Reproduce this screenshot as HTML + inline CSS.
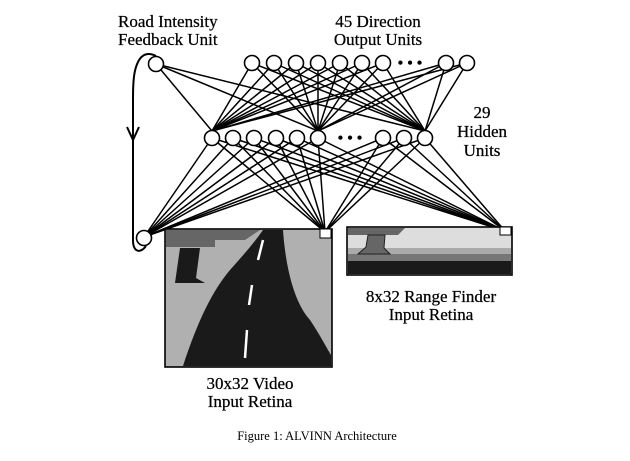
<!DOCTYPE html>
<html><head><style>body{margin:0;background:#fff}svg{display:block}text{font-family:"Liberation Serif",serif;fill:#000}</style></head>
<body>
<svg width="630" height="461" viewBox="0 0 630 461" xmlns="http://www.w3.org/2000/svg">
<g id="lines" stroke="#000" stroke-width="1.5" fill="none"></g>
<!-- video image -->
<rect x="165" y="229" width="167" height="138" fill="#b0b0b0" stroke="#000" stroke-width="1.6"/>
<path d="M166 230 H260 L245 240 H215 V247 H166 Z" fill="#666"/>
<path d="M180 248 H200 L196 278 L205 283 H175 Z" fill="#1a1a1a"/>
<path d="M183 366 C198 320 213 290 230 270 C248 250 256 240 263 230 H283 C285 260 292 300 310 320 C320 335 325 345 331 355 V366 Z" fill="#1a1a1a"/>
<path d="M263 240 L258 260 M252 285 L249 305 M247 330 L245 358" stroke="#fff" stroke-width="2.5"/>
<rect x="320" y="229" width="11" height="9" fill="#fff" stroke="#000"/>
<!-- range image -->
<rect x="347" y="227" width="165" height="48" fill="#ddd" stroke="#000" stroke-width="1.6"/>
<path d="M348 228 H405 L398 235 H348 Z" fill="#666"/>
<rect x="348" y="248" width="163" height="6" fill="#aaa"/>
<rect x="348" y="254" width="163" height="7" fill="#777"/>
<rect x="348" y="261" width="163" height="13" fill="#1a1a1a"/>
<path d="M368 235 H385 L384 248 L390 254 H358 L366 247 Z" fill="#666" stroke="#222"/>
<rect x="500" y="227" width="11" height="8" fill="#fff" stroke="#000"/>
<!-- feedback loop -->
<path d="M156 56 C148 52 142 54 138 62 C134 70 133 80 133 100 L133 240 C133 252 140 254 146 246" stroke="#000" stroke-width="2" fill="none"/>
<path d="M127 127 L133 140 L139 127" stroke="#000" stroke-width="2" fill="none"/>
<g id="nodes" fill="#fff" stroke="#000" stroke-width="1.6"></g>
<text x="410" y="68" font-size="16" text-anchor="middle" font-weight="bold">• • •</text>
<text x="350" y="143" font-size="16" text-anchor="middle" font-weight="bold">• • •</text>
<g font-size="17" stroke="#000" stroke-width="0.25">
<text x="118" y="27">Road Intensity</text>
<text x="118" y="45">Feedback Unit</text>
<text x="378" y="27" text-anchor="middle">45 Direction</text>
<text x="378" y="45" text-anchor="middle">Output Units</text>
<text x="482" y="118" text-anchor="middle">29</text>
<text x="482" y="137" text-anchor="middle">Hidden</text>
<text x="482" y="156" text-anchor="middle">Units</text>
<text x="431" y="302" text-anchor="middle">8x32 Range Finder</text>
<text x="431" y="320" text-anchor="middle">Input Retina</text>
<text x="250" y="389" text-anchor="middle">30x32 Video</text>
<text x="250" y="407" text-anchor="middle">Input Retina</text>
</g>
<text x="317" y="440" font-size="12.5" text-anchor="middle">Figure 1:  ALVINN Architecture</text>
<script>
var out=[252,274,296,318,340,362,383,446,467],oy=63;
var hid=[212,233,254,276,297,318,383,404,425],hy=138;
var hubs=[212,318,425];
var inp=[[144,237],[325,232],[505,231]];
var L=document.getElementById('lines'),N=document.getElementById('nodes'),ns='http://www.w3.org/2000/svg';
function ln(a,b,c,d){var e=document.createElementNS(ns,'line');e.setAttribute('x1',a);e.setAttribute('y1',b);e.setAttribute('x2',c);e.setAttribute('y2',d);L.appendChild(e);}
function ci(x,y){var e=document.createElementNS(ns,'circle');e.setAttribute('cx',x);e.setAttribute('cy',y);e.setAttribute('r',7.5);N.appendChild(e);}
hubs.forEach(function(h){out.forEach(function(o){ln(o,oy,h,hy-7)});ln(156,64,h,hy-7);});
hid.forEach(function(h){inp.forEach(function(p){ln(h,hy,p[0],p[1])})});
out.forEach(function(o){ci(o,oy)});ci(156,64);
hid.forEach(function(h){ci(h,hy)});ci(144,238);
</script>
</svg>
</body></html>
